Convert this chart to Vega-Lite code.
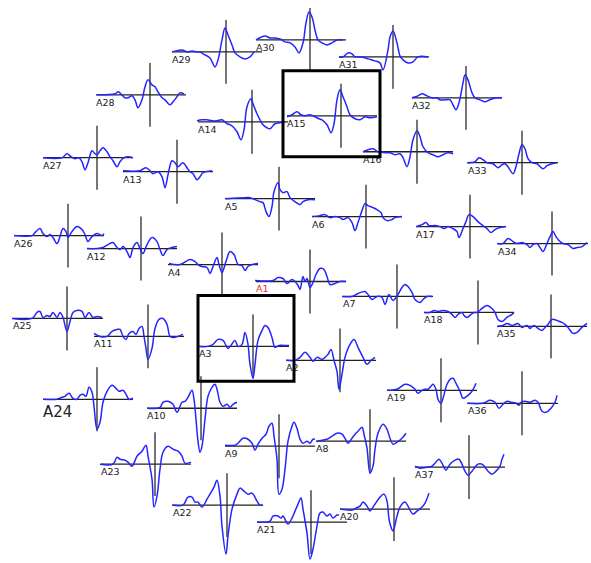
{
"$schema":"https://vega.github.io/schema/vega-lite/v6.json",
"width":591,"height":563,"padding":0,
"autosize":{"type":"fit","contains":"padding"},
"background":"white",
"config":{"view":{"stroke":null}},
"datasets":{
"sensors":[
{"s":"A1","cx":310,"cy":282,"t":[-55,-37,-32,-27,-23,-18,-15,-12,-10,-7,-5,-3,0,3,6,10,14,17,20,25,30,36],"v":[1,1,4,3,-2,2,0,-4,-8,5,0,3,-6,-1,7,13,12,5,-3,-2,0,0]},
{"s":"A2","cx":340,"cy":361,"t":[-54,-45,-40,-35,-30,-27,-23,-18,-15,-12,-9,-6,-3,-1,2,5,10,14,18,23,27,31,35],"v":[0,0,3,8,3,-1,3,1,3,6,11,0,-11,-29,-14,3,16,21,13,3,-4,0,3]},
{"s":"A3","cx":253,"cy":347,"t":[-54,-45,-40,-35,-30,-25,-22,-18,-15,-11,-8,-5,-3,0,2,5,9,12,15,19,22,26,31,36],"v":[0,0,2,7,6,-2,1,6,0,2,14,2,-18,-32,-18,6,16,21,19,9,-1,1,1,1]},
{"s":"A4","cx":222,"cy":265,"t":[-53,-42,-32,-27,-24,-20,-15,-12,-9,-5,-3,0,4,8,12,16,20,23,26,30,36],"v":[1,0,5,3,0,-2,-3,-9,-2,7,0,-8,3,13,10,0,-1,-6,-2,0,1]},
{"s":"A5","cx":279,"cy":199,"t":[-53,-34,-29,-24,-19,-16,-13,-10,-7,-5,-1,1,4,8,11,16,21,24,29,36],"v":[0,1,1,-1,-3,-4,-13,-18,-8,7,16,9,6,7,1,-3,-6,-3,-1,-1]},
{"s":"A6","cx":366,"cy":217,"t":[-54,-46,-41,-36,-31,-26,-23,-18,-14,-11,-8,-4,-1,2,7,11,15,17,21,26,29,36],"v":[0,1,2,-1,0,-1,-3,-1,-6,-14,-6,6,13,11,9,7,4,-1,-4,-3,-1,0]},
{"s":"A7","cx":397,"cy":297,"t":[-55,-45,-39,-32,-29,-25,-20,-15,-12,-8,-4,1,5,8,11,15,18,23,26,30,35],"v":[0,0,3,5,2,-3,0,-1,-8,2,-4,2,9,12,10,4,-3,-6,-3,0,0]},
{"s":"A8","cx":370,"cy":442,"t":[-53,-48,-43,-38,-33,-28,-25,-22,-18,-15,-12,-8,-6,-3,0,3,5,8,13,17,20,23,27,32,36],"v":[0,1,2,5,8,7,3,-2,3,7,10,14,7,-7,-32,-25,-8,8,17,12,3,-3,-1,3,8]},
{"s":"A9","cx":279,"cy":447,"t":[-54,-44,-41,-36,-31,-27,-24,-21,-17,-13,-10,-7,-5,-2,0,3,6,9,13,15,18,21,24,28,31,34,36],"v":[1,1,3,8,7,3,-4,2,8,12,20,23,10,-13,-48,-43,-23,5,20,24,18,7,3,5,3,7,7]},
{"s":"A10","cx":201,"cy":409,"t":[-54,-41,-38,-33,-28,-24,-19,-16,-13,-9,-7,-5,-3,-1,1,4,7,11,14,16,19,22,26,29,32,36],"v":[0,1,6,7,4,-4,6,7,11,18,9,-11,-33,-44,-38,-11,12,21,24,19,6,2,4,1,4,6]},
{"s":"A11","cx":148,"cy":337,"t":[-54,-48,-41,-36,-31,-28,-25,-22,-19,-15,-12,-9,-6,-4,-2,0,4,7,11,15,19,22,25,30,35],"v":[3,0,0,5,7,7,0,-3,3,5,2,8,10,0,-12,-23,-12,8,17,18,12,0,-1,0,2]},
{"s":"A12","cx":141,"cy":249,"t":[-54,-44,-38,-33,-28,-24,-21,-18,-14,-11,-8,-4,-1,2,6,11,16,19,22,26,31,36],"v":[0,0,1,4,6,1,-1,2,-3,-9,1,6,0,-5,4,11,7,-1,-7,-1,1,2]},
{"s":"A13","cx":177,"cy":172,"t":[-54,-37,-31,-27,-24,-19,-15,-12,-9,-5,-2,1,6,10,13,16,20,23,26,35],"v":[1,1,4,1,-2,0,-5,-16,-3,11,9,5,9,4,0,-2,-8,-5,-1,1]},
{"s":"A14","cx":252,"cy":122,"t":[-55,-50,-45,-40,-35,-30,-25,-22,-19,-15,-11,-8,-5,-1,1,5,8,11,15,18,23,28,33],"v":[1,2,2,1,1,2,-2,-3,-5,-10,-18,-8,15,23,18,8,2,-3,-6,-7,-2,-1,0]},
{"s":"A15","cx":341,"cy":116,"t":[-54,-49,-44,-40,-36,-31,-26,-22,-19,-14,-10,-7,-4,-1,2,6,9,14,19,24,29,36],"v":[-1,1,4,1,0,1,-1,-3,-4,-9,-17,-8,16,26,19,9,1,-3,-4,-1,-2,-1]},
{"s":"A16","cx":417,"cy":152,"t":[-54,-44,-39,-30,-27,-22,-17,-14,-10,-7,-4,0,3,6,11,16,21,26,31,36],"v":[0,3,0,-1,-1,-3,-2,-6,-15,-5,12,21,15,5,-1,-3,-5,-3,-1,-2]},
{"s":"A17","cx":470,"cy":227,"t":[-54,-48,-44,-41,-35,-30,-26,-22,-17,-13,-11,-7,-4,-1,3,6,9,13,17,21,25,30,36],"v":[0,2,4,1,1,0,-2,0,-2,-5,-11,-2,5,12,10,7,4,1,-2,-6,-3,-1,0]},
{"s":"A18","cx":478,"cy":313,"t":[-54,-48,-44,-40,-35,-30,-26,-23,-20,-16,-14,-11,-7,-4,-1,4,9,14,17,20,24,29,34,36],"v":[0,0,2,1,2,1,-2,-5,-2,0,-3,-5,-2,0,0,4,7,4,0,-7,-9,-5,-2,0]},
{"s":"A19","cx":441,"cy":391,"t":[-54,-51,-44,-36,-31,-26,-23,-19,-16,-13,-10,-8,-5,-3,0,2,6,9,12,15,19,22,27,31,35],"v":[0,0,1,6,5,1,-3,0,1,1,4,6,1,-9,-13,-8,6,11,12,7,-1,-8,-5,-1,7]},
{"s":"A20","cx":394,"cy":510,"t":[-54,-42,-38,-34,-31,-27,-24,-21,-17,-14,-10,-7,-5,-3,-1,3,6,11,14,19,23,28,31,35],"v":[0,-1,1,3,7,3,-2,2,8,12,15,8,-10,-18,-22,-7,2,7,3,-5,-2,2,6,16]},
{"s":"A21","cx":311,"cy":523,"t":[-54,-41,-38,-33,-30,-28,-23,-19,-16,-13,-10,-8,-4,-1,2,6,9,12,16,19,22,26,28],"v":[0,1,6,6,4,6,-2,4,11,18,24,13,-11,-37,-27,-4,9,10,6,8,4,7,7]},
{"s":"A22","cx":227,"cy":506,"t":[-55,-44,-39,-35,-32,-29,-25,-20,-17,-13,-10,-7,-5,-1,1,5,10,13,17,21,25,30,33,36],"v":[0,0,8,8,3,3,-2,6,11,18,25,9,-21,-49,-31,-4,11,17,14,11,12,4,0,0]},
{"s":"A23","cx":155,"cy":465,"t":[-55,-42,-38,-35,-30,-27,-23,-18,-13,-9,-7,-3,-1,2,5,8,13,18,23,27,30,36],"v":[0,0,7,5,4,2,-2,8,13,19,8,-15,-43,-32,-5,12,18,15,13,8,1,2]},
{"s":"A24","cx":97,"cy":400,"t":[-54,-40,-35,-32,-28,-24,-20,-17,-14,-11,-8,-5,-3,0,3,6,10,15,19,22,26,29,32,36],"v":[0,0,2,3,6,1,0,4,5,3,12,7,-7,-30,-23,-3,8,14,11,8,9,5,0,1]},
{"s":"A25","cx":67,"cy":319,"t":[-55,-35,-30,-27,-24,-20,-17,-14,-10,-7,-4,0,3,6,10,15,18,22,26,30,35],"v":[0,0,6,7,1,3,2,6,1,6,1,-13,-3,6,8,7,1,6,1,2,1]},
{"s":"A26","cx":68,"cy":236,"t":[-54,-36,-33,-28,-25,-21,-18,-15,-11,-8,-5,-2,0,4,9,14,17,20,24,29,34,36],"v":[0,0,3,7,2,-1,1,-2,-8,-1,7,4,-2,4,9,6,1,-6,-1,2,0,2]},
{"s":"A27","cx":97,"cy":158,"t":[-54,-35,-30,-26,-22,-18,-15,-12,-9,-5,-2,0,3,6,10,13,16,20,23,27,31,36],"v":[0,0,4,1,-1,0,-4,-12,-5,7,4,3,7,10,6,1,-3,-9,-4,0,1,0]},
{"s":"A28","cx":150,"cy":95,"t":[-53,-35,-32,-28,-25,-22,-18,-15,-12,-8,-5,-2,2,5,8,12,15,20,23,27,30,34],"v":[0,1,3,0,-3,-3,-1,-5,-13,-5,8,15,10,8,3,-3,-5,-10,-7,-2,2,1]},
{"s":"A29","cx":226,"cy":52,"t":[-54,-44,-39,-34,-29,-26,-21,-16,-11,-8,-4,-1,2,6,9,14,19,24,28],"v":[0,2,0,1,0,0,-3,-6,-15,-8,12,24,17,7,-1,-5,-7,-5,0]},
{"s":"A30","cx":310,"cy":40,"t":[-54,-45,-40,-35,-30,-25,-20,-15,-11,-7,-4,-1,2,5,8,12,17,22,27,33],"v":[0,4,2,2,1,-2,-3,-7,-13,-3,17,28,23,10,0,-3,-5,-3,0,0]},
{"s":"A31","cx":393,"cy":57,"t":[-54,-50,-45,-41,-38,-31,-25,-18,-13,-10,-5,-3,0,4,7,10,15,20,25,35],"v":[0,0,4,3,0,0,-2,-4,-6,-13,7,20,26,14,1,-3,-6,-5,0,0]},
{"s":"A32","cx":466,"cy":98,"t":[-54,-48,-44,-39,-34,-29,-26,-21,-16,-13,-10,-7,-3,-1,2,6,9,14,19,24,30,36],"v":[0,2,4,2,0,0,-2,-2,-2,-7,-12,-5,15,23,18,5,0,-2,-4,-2,0,0]},
{"s":"A33","cx":522,"cy":163,"t":[-55,-47,-43,-39,-35,-29,-24,-20,-17,-14,-9,-6,-3,0,3,6,10,15,21,25,30,35],"v":[0,1,5,3,0,-1,-5,-2,-1,-4,-11,-4,9,18,14,4,0,-1,-6,-3,-1,0]},
{"s":"A34","cx":552,"cy":244,"t":[-55,-49,-44,-39,-35,-30,-25,-22,-19,-15,-12,-9,-5,-2,1,4,8,11,16,21,25,30,35],"v":[0,0,5,2,0,1,-1,-4,-1,0,-4,-8,0,7,12,7,2,0,-1,-5,-4,-3,1]},
{"s":"A35","cx":551,"cy":327,"t":[-54,-48,-44,-39,-36,-33,-29,-24,-21,-17,-13,-9,-6,-3,1,6,11,14,17,22,26,31,36],"v":[0,1,3,1,2,3,-1,1,-2,1,-2,-4,-1,2,7,6,4,2,-1,-7,-6,-1,3]},
{"s":"A36","cx":522,"cy":404,"t":[-55,-39,-32,-27,-23,-19,-15,-11,-6,-3,-1,3,8,13,16,20,24,29,33,35],"v":[0,0,3,1,-5,-1,2,1,0,-2,1,2,1,3,1,-8,-9,-5,1,8]},
{"s":"A37","cx":469,"cy":468,"t":[-54,-49,-42,-37,-34,-30,-26,-23,-19,-14,-10,-7,-4,-1,3,6,9,13,16,19,23,27,31,33,35],"v":[1,-1,0,1,4,8,2,-3,3,7,8,3,-4,-8,-4,0,3,3,0,-4,-7,-4,1,8,13]}
],
"boxes":[{"s":"A15","x0":283,"x1":380,"y0":71,"y1":157},{"s":"A3","x0":198,"x1":294,"y0":296,"y1":382}]
},
"layer":[
{"data":{"name":"sensors"},
 "transform":[{"calculate":"datum.cx-54","as":"xa"},{"calculate":"datum.cx+36","as":"xb"}],
 "mark":{"type":"rule","stroke":"#222","strokeWidth":1.3},
 "encoding":{"x":{"field":"xa","type":"quantitative","scale":{"domain":[0,591],"nice":false,"zero":false},"axis":null},
  "x2":{"field":"xb"},
  "y":{"field":"cy","type":"quantitative","scale":{"domain":[0,563],"nice":false,"zero":false,"reverse":true},"axis":null}}},
{"data":{"name":"sensors"},
 "transform":[{"calculate":"datum.cy-32","as":"ya"},{"calculate":"datum.cy+32","as":"yb"}],
 "mark":{"type":"rule","stroke":"#2a2a2a","strokeWidth":1.3},
 "encoding":{"x":{"field":"cx","type":"quantitative","scale":{"domain":[0,591],"nice":false,"zero":false},"axis":null},
  "y":{"field":"ya","type":"quantitative","scale":{"domain":[0,563],"nice":false,"zero":false,"reverse":true},"axis":null},
  "y2":{"field":"yb"}}},
{"data":{"name":"sensors"},
 "transform":[{"flatten":["t","v"]},{"calculate":"datum.cx+datum.t","as":"px"},{"calculate":"datum.cy-datum.v","as":"py"}],
 "mark":{"type":"line","stroke":"#2424ff","strokeWidth":1.5,"interpolate":"catmull-rom"},
 "encoding":{"x":{"field":"px","type":"quantitative","scale":{"domain":[0,591],"nice":false,"zero":false},"axis":null},
  "y":{"field":"py","type":"quantitative","scale":{"domain":[0,563],"nice":false,"zero":false,"reverse":true},"axis":null},
  "detail":{"field":"s"}}},
{"data":{"name":"sensors"},
 "transform":[{"filter":"datum.s !== 'A24'"},{"calculate":"datum.cx-54","as":"lx"},{"calculate":"datum.cy+11","as":"ly"}],
 "mark":{"type":"text","align":"left","baseline":"alphabetic","font":"DejaVu Sans","fontSize":9.5},
 "encoding":{"x":{"field":"lx","type":"quantitative","scale":{"domain":[0,591],"nice":false,"zero":false},"axis":null},
  "y":{"field":"ly","type":"quantitative","scale":{"domain":[0,563],"nice":false,"zero":false,"reverse":true},"axis":null},
  "text":{"field":"s"},
  "color":{"condition":{"test":"datum.s === 'A1'","value":"#e8302a"},"value":"#1a1a1a"}}},
{"data":{"name":"sensors"},
 "transform":[{"filter":"datum.s === 'A24'"},{"calculate":"datum.cx-54","as":"lx"},{"calculate":"datum.cy+18","as":"ly"}],
 "mark":{"type":"text","align":"left","baseline":"alphabetic","font":"DejaVu Sans","fontSize":15,"color":"#222"},
 "encoding":{"x":{"field":"lx","type":"quantitative","scale":{"domain":[0,591],"nice":false,"zero":false},"axis":null},
  "y":{"field":"ly","type":"quantitative","scale":{"domain":[0,563],"nice":false,"zero":false,"reverse":true},"axis":null},
  "text":{"field":"s"}}},
{"data":{"name":"boxes"},
 "mark":{"type":"rect","filled":false,"stroke":"#000","strokeWidth":3},
 "encoding":{"x":{"field":"x0","type":"quantitative","scale":{"domain":[0,591],"nice":false,"zero":false},"axis":null},
  "x2":{"field":"x1"},
  "y":{"field":"y0","type":"quantitative","scale":{"domain":[0,563],"nice":false,"zero":false,"reverse":true},"axis":null},
  "y2":{"field":"y1"}}}
]
}
